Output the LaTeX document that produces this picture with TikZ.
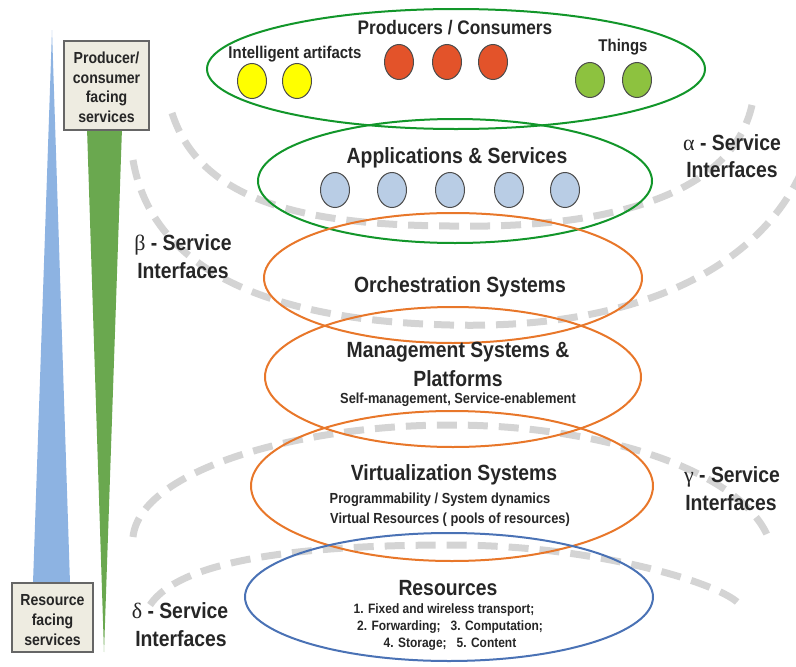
\documentclass[tikz,border=0pt]{standalone}
\usepackage{fontspec}
\setmainfont[FakeStretch=0.88]{Liberation Sans}
\newfontfamily\grk{Liberation Serif}
\usetikzlibrary{shapes.geometric}
\definecolor{gdash}{HTML}{D4D4D4}
\definecolor{ellgreen}{HTML}{12962A}
\definecolor{ellorange}{HTML}{E8772A}
\definecolor{ellblue}{HTML}{4A72B5}
\definecolor{boxfill}{HTML}{EEECE1}
\definecolor{trblue}{HTML}{8DB3E2}
\definecolor{trgreen}{HTML}{6AA84F}
\definecolor{dotyellow}{HTML}{FFFF00}
\definecolor{dotred}{HTML}{E3532A}
\definecolor{dotgreen}{HTML}{8DC23F}
\definecolor{dotblue}{HTML}{B9CDE5}
\definecolor{txt}{HTML}{262626}
\tikzset{
  iface/.style={draw=gdash, line width=7pt, dash pattern=on 20pt off 11pt},
  layer/.style={ellipse, draw, line width=2pt, inner sep=0pt},
  dot/.style={ellipse, draw=black!70, line width=1pt, minimum width=29pt, minimum height=35pt, inner sep=0pt},
  sidebox/.style={draw=black!60, line width=1.2pt, fill=boxfill, inner sep=0pt},
  lbl/.style={anchor=base, inner sep=0pt, text=txt},
  boxtxt/.style={lbl, font=\bfseries\fontsize{16}{18}\selectfont},
  title/.style={lbl, font=\bfseries\fontsize{22}{24}\selectfont},
  sub/.style={lbl, font=\bfseries\fontsize{14.6}{16}\selectfont},
  resl/.style={lbl, font=\bfseries\fontsize{13.6}{15}\selectfont},
  greek/.style={lbl, font=\bfseries\fontsize{22}{24}\selectfont},
}
\newcommand{\gl}[1]{{\grk\mdseries\fontsize{22}{24}\selectfont #1}}
\begin{document}
\begin{tikzpicture}[x=1pt,y=-1pt]
\useasboundingbox (0,0) rectangle (796,667);
% triangles
\fill[trblue] (52,30) -- (70,583) -- (33,583) -- cycle;
\fill[trgreen] (87,128) -- (122,128) -- (104,652) -- cycle;
% boxes
\node[sidebox, minimum width=85pt, minimum height=89pt] (pbox) at (106.5,85.5) {};
\node[boxtxt] (pb1) at (106.5,63) {Producer/};
\node[boxtxt] (pb2) at (106.5,83) {consumer};
\node[boxtxt] (pb3) at (106.5,102.5) {facing};
\node[boxtxt] (pb4) at (106.5,122) {services};
\node[sidebox, minimum width=81pt, minimum height=69pt] (rbox) at (52.5,617.5) {};
\node[boxtxt] (rb1) at (52.5,605) {Resource};
\node[boxtxt] (rb2) at (52.5,625) {facing};
\node[boxtxt] (rb3) at (52.5,645) {services};
% dashed interface arcs
\draw[iface] (172,113) .. controls (200,200) and (300,225) .. (450,226) .. controls (610,229) and (732,195) .. (752,105);
\draw[iface] (133,160) .. controls (150,260) and (250,320) .. (450,325) .. controls (650,330) and (760,260) .. (800,175);
\draw[iface] (133,537) .. controls (140,470) and (300,425) .. (450,425) .. controls (600,425) and (740,470) .. (768,537);
\draw[iface] (150,605) .. controls (180,560) and (300,545) .. (450,545) .. controls (600,545) and (725,585) .. (740,605);
% layer ellipses
\node[layer, draw=ellgreen, minimum width=498pt, minimum height=120pt] (prod) at (456,69) {};
\node[layer, draw=ellgreen, minimum width=394pt, minimum height=124pt] (apps) at (455,181) {};
\node[layer, draw=ellorange, minimum width=378pt, minimum height=130pt] (orch) at (453,278) {};
\node[layer, draw=ellorange, minimum width=376pt, minimum height=140pt] (mgmt) at (453,377) {};
\node[layer, draw=ellorange, minimum width=402pt, minimum height=150pt] (virt) at (452,486) {};
\node[layer, draw=ellblue, minimum width=408pt, minimum height=128pt] (res) at (449,597) {};
% producers / consumers
\node[lbl, font=\bfseries\fontsize{19.6}{22}\selectfont] (tprod) at (455,34) {Producers / Consumers};
\node[lbl, font=\bfseries\fontsize{17}{19}\selectfont] (tia) at (295,58) {Intelligent artifacts};
\node[lbl, font=\bfseries\fontsize{17}{19}\selectfont] (tth) at (623,51) {Things};
\node[dot, fill=dotyellow] (y1) at (252,81) {};
\node[dot, fill=dotyellow] (y2) at (297,81) {};
\node[dot, fill=dotred] (r1) at (399,62) {};
\node[dot, fill=dotred] (r2) at (447,62) {};
\node[dot, fill=dotred] (r3) at (493,62) {};
\node[dot, fill=dotgreen] (g1) at (590,80) {};
\node[dot, fill=dotgreen] (g2) at (637,80) {};
% applications
\node[title] (tapps) at (457,163) {Applications \& Services};
\node[dot, fill=dotblue] (b1) at (335,190) {};
\node[dot, fill=dotblue] (b2) at (392,190) {};
\node[dot, fill=dotblue] (b3) at (450,190) {};
\node[dot, fill=dotblue] (b4) at (509,190) {};
\node[dot, fill=dotblue] (b5) at (565,190) {};
% other layers
\node[title] (torch) at (460,292) {Orchestration Systems};
\node[title] (tmg1) at (458,357) {Management Systems \&};
\node[title] (tmg2) at (458,386) {Platforms};
\node[sub] (tmg3) at (458,403) {Self-management, Service-enablement};
\node[title] (tvirt) at (454,480) {Virtualization Systems};
\node[sub] (tv1) at (440,503) {Programmability / System dynamics};
\node[sub] (tv2) at (450,523) {Virtual Resources ( pools of resources)};
\node[title] (tres) at (448,595) {Resources};
\node[resl] (tr1) at (444,613) {1. Fixed and wireless transport;};
\node[resl] (tr2) at (450,630) {2. Forwarding;\ \ \ 3. Computation;};
\node[resl] (tr3) at (450,647) {4. Storage;\ \ \ 5. Content};
% interface labels
\node[greek] (alpha1) at (732,150) {\gl{α} - Service};
\node[greek] (alpha2) at (732,177) {Interfaces};
\node[greek] (beta1) at (183,250) {\gl{β} - Service};
\node[greek] (beta2) at (183,278) {Interfaces};
\node[greek] (gamma1) at (732,482) {\gl{γ} - Service};
\node[greek] (gamma2) at (731,510) {Interfaces};
\node[greek] (delta1) at (180,618) {\gl{δ} - Service};
\node[greek] (delta2) at (181,646) {Interfaces};
\end{tikzpicture}
\end{document}
